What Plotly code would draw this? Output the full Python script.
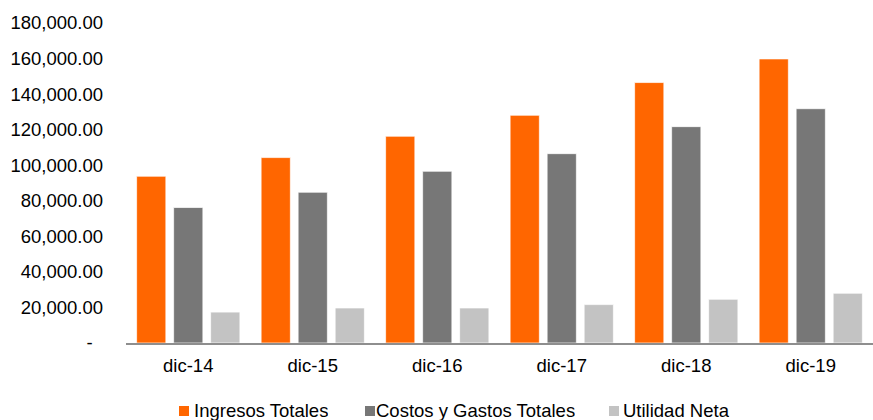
import plotly.graph_objects as go

categories = ["dic-14", "dic-15", "dic-16", "dic-17", "dic-18", "dic-19"]
ingresos = [93800, 104300, 116300, 128100, 146500, 159800]
costos = [76200, 84800, 96600, 106500, 121700, 131800]
utilidad = [17400, 19700, 19700, 21600, 24600, 28000]

series_names = ["Ingresos Totales", "Costos y Gastos Totales", "Utilidad Neta"]
series_colors = ["#FF6600", "#777777", "#C3C3C3"]
series_values = [ingresos, costos, utilidad]

tick_vals = list(range(0, 180001, 20000))
tick_text = ["-\u00a0\u00a0"] + [f"{v:,.2f}" for v in tick_vals[1:]]

FONT = "Liberation Sans, Arial, sans-serif"
FS = 18.5

# plot area geometry (pixels) used to place the hand-drawn legend
W, H = 873, 420
ML, MR, MT, MB = 126, 0, 23, 77
PW, PH = W - ML - MR, H - MT - MB

def px_x(px):
    return (px - ML) / PW

def px_y(py):
    return (H - MB - py) / PH

fig = go.Figure()
for name, color, vals in zip(series_names, series_colors, series_values):
    fig.add_trace(go.Bar(
        x=categories, y=vals, name=name,
        marker=dict(color=color, line=dict(color="rgba(255,255,255,0.7)", width=1)),
        showlegend=False,
    ))

# legend: squares + labels
legend_sq_left = [179, 365, 609]
legend_text_left = [192, 374, 621]
for name, color, sq, tx in zip(series_names, series_colors, legend_sq_left, legend_text_left):
    fig.add_shape(type="rect", xref="paper", yref="paper",
                  x0=px_x(sq), x1=px_x(sq + 10), y0=px_y(416), y1=px_y(406),
                  fillcolor=color, line=dict(width=0))
    fig.add_annotation(text=name, xref="paper", yref="paper",
                       x=px_x(tx), y=px_y(409.5), xanchor="left", yanchor="middle",
                       height=20, valign="middle",
                       showarrow=False, font=dict(size=FS, family=FONT, color="#000000"))

fig.update_layout(
    width=W, height=H,
    margin=dict(l=ML, r=MR, t=MT, b=MB, autoexpand=False),
    paper_bgcolor="white", plot_bgcolor="white",
    barmode="group", bargap=0.108, bargroupgap=0.21,
    font=dict(family=FONT, size=FS, color="#000000"),
    showlegend=False,
)
fig.update_xaxes(showgrid=False, showline=True, linecolor="#8E8E8E", linewidth=2,
                 ticks="", tickfont=dict(size=FS), ticklabelstandoff=5)
fig.update_yaxes(range=[0, 180000], tickvals=tick_vals, ticktext=tick_text,
                 showgrid=False, zeroline=False, showline=False, ticks="",
                 tickfont=dict(size=FS), ticklabelstandoff=22)

fig.write_html("out.html")
